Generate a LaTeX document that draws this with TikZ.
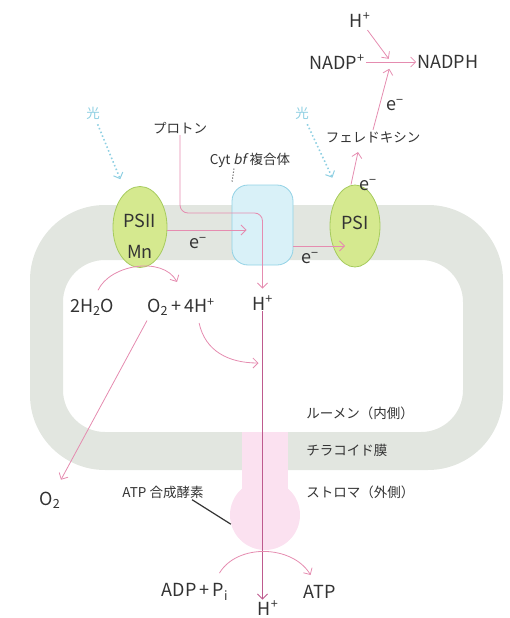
\documentclass[tikz,border=0pt]{standalone}
\usepackage{fontspec}
\setmainfont{Noto Sans CJK JP}[ItalicFont={Noto Sans CJK JP},ItalicFeatures={FakeSlant=0.2}]
\usetikzlibrary{arrows.meta,shapes.geometric,calc}

\definecolor{membrane}{HTML}{E2E6E0}
\definecolor{synthpink}{HTML}{FBE1F0}
\definecolor{psfill}{HTML}{D5E98F}
\definecolor{psedge}{HTML}{A6CB5E}
\definecolor{cytfill}{HTML}{D9F1F8}
\definecolor{cytedge}{HTML}{92D2E5}
\definecolor{flowpink}{HTML}{E58CB0}
\definecolor{protonline}{HTML}{BE5A8E}
\definecolor{lightblue}{HTML}{8ECFE2}
\definecolor{txt}{HTML}{333333}

\begin{document}
\begin{tikzpicture}[x=1pt,y=-1pt,line width=.8pt,
  lbl/.style={inner sep=1pt,text=txt,font=\fontsize{18}{20}\selectfont},
  jlbl/.style={inner sep=1pt,text=txt,font=\fontsize{13.5}{16}\selectfont},
  photosys/.style={ellipse,draw=psedge,fill=psfill,inner sep=0pt},
  flow/.style={draw=flowpink,-{Straight Barb[length=5pt,width=10pt]}},
  lightray/.style={draw=lightblue,line width=1.6pt,dash pattern=on 1.5pt off 2.5pt,
    -{Straight Barb[length=5pt,width=10pt,line width=1pt]}}]
\path[use as bounding box] (0,0) rectangle (509,618);
\fill[membrane,even odd rule,rounded corners=75pt] (30,205) rectangle (503,470)
  [rounded corners=42pt] (63,260) rectangle (463,432);
\fill[synthpink] (242,432) rectangle (288,490);
\node[circle,fill=synthpink,minimum size=70pt,inner sep=0pt] (atpase) at (265,515) {};
\node[photosys,minimum width=54pt,minimum height=81pt] (psII) at (140,227) {};
\node[lbl] (psIIlbl) at (140,221) {PSII};
\node[lbl] (mn) at (140,252) {Mn};
\node[photosys,minimum width=50pt,minimum height=82pt] (psI) at (355,226) {};
\node[lbl] (psIlbl) at (355,223) {PSI};
\node[draw=cytedge,fill=cytfill,rounded corners=16pt,minimum width=61pt,minimum height=80pt] (cyt) at (262.5,225) {};
\node[lbl] (htop) at (360,20) {H\textsuperscript{+}};
\node[lbl] (nadp) at (337,62) {NADP\textsuperscript{+}};
\node[lbl] (nadph) at (448,62) {NADPH};
\node[jlbl,text=lightblue] (hikariA) at (93,113) {光};
\node[jlbl,text=lightblue] (hikariB) at (302,113) {光};
\node[jlbl] (proton) at (180,128) {プロトン};
\node[jlbl] (cytlbl) at (250,160) {Cyt \textit{bf} 複合体};
\node[jlbl] (ferre) at (373,137) {フェレドキシン};
\node[lbl] (eA) at (198,243) {e\textsuperscript{−}};
\node[lbl] (eB) at (310,258) {e\textsuperscript{−}};
\node[lbl] (eC) at (368,185) {e\textsuperscript{−}};
\node[lbl] (eD) at (395,105) {e\textsuperscript{−}};
\node[lbl] (water) at (92,307) {2H\textsubscript{2}O};
\node[lbl] (oxy) at (181,307) {O\textsubscript{2}\,+\,4H\textsuperscript{+}};
\node[lbl] (hmid) at (262.5,303) {H\textsuperscript{+}};
\node[lbl] (otwo) at (50,500) {O\textsubscript{2}};
\node[jlbl,anchor=west] (lumen) at (305,413) {ルーメン（内側）};
\node[jlbl,anchor=west] (thyla) at (305,450) {チラコイド膜};
\node[jlbl,anchor=west] (stroma) at (305,492) {ストロマ（外側）};
\node[jlbl] (synthlbl) at (163,492) {ATP 合成酵素};
\node[lbl] (adp) at (195,592) {ADP\,+\,P\textsubscript{i}};
\node[lbl] (atp) at (320,592) {ATP};
\node[lbl] (hbot) at (268,608) {H\textsuperscript{+}};
\coordinate (rxn) at ($(nadp.east)!.5!(nadph.west)$);

\draw[lightray,shorten >=14pt,shorten <=4pt] (hikariA) -- (psII);
\draw[lightray,shorten >=17pt,shorten <=4pt] (hikariB) -- (psI);
\draw[draw=txt,line width=1pt,dash pattern=on 1pt off 2pt,shorten >=2pt] ([xshift=-16pt]cytlbl.south) -- (cyt.north west);
\draw[flow,rounded corners=8pt,shorten >=6pt] (proton.south) |- ($(cyt.center)+(0,-12)$) -- (hmid.north);
\draw[flow] ($(psII.east)+(0,3)$) -- ($(cyt.center)+(-16,5)$);
\draw[flow] ($(cyt.east)+(0,21)$) -- ($(psI.center)+(-10,20)$);
\draw[flow] ($(psI.north)+(-4,0)$) -- ($(ferre.south)+(-15,8)$);
\draw[flow,shorten >=7pt] (ferre.north) -- (rxn);
\draw[flow] (nadp) -- (nadph);
\draw[flow,shorten <=2pt,shorten >=4pt] (htop) -- (rxn);
\draw[flow] ($(water.north)+(6,-7)$) .. controls +(12,-26) and +(-14,-26) .. ($(oxy.north)+(-4,-15)$);
\draw[flow,shorten <=4pt,shorten >=12pt] ($(oxy.south west)+(3,0)$) -- (otwo);
\draw[flow] ($(oxy.south east)+(-17,6)$) .. controls +(6,28) and +(-30,0) .. ($(hmid.center)+(-4,60)$);
\draw[protonline,-{Straight Barb[length=5pt,width=10pt]}] (hmid.south) -- (hmid.south |- hbot.north);
\draw[txt,line width=1.2pt] ([xshift=29pt]synthlbl.south) -- (atpase.195);
\draw[flow] ($(adp.north east)+(-10,-9)$) .. controls +(18,-30) and +(-18,-30) .. ($(atp.north west)+(8,-9)$);
\end{tikzpicture}
\end{document}
